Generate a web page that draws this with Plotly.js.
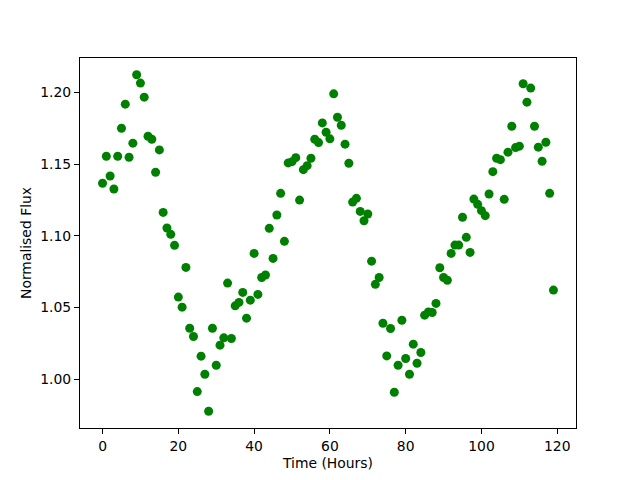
<!DOCTYPE html>
<html>
<head>
<meta charset="utf-8">
<script src="https://cdn.plot.ly/plotly-3.0.1.min.js"></script>
<style>html,body{margin:0;padding:0;background:#fff;}#chart{width:640px;height:480px;}</style>
</head>
<body>
<div id="chart"></div>
<script>
// Time in hours (one sample per hour)
const timeHours = [
  0,1,2,3,4,5,6,7,8,9,10,11,12,13,14,15,16,17,18,19,
  20,21,22,23,24,25,26,27,28,29,30,31,32,33,34,35,36,37,38,39,
  40,41,42,43,44,45,46,47,48,49,50,51,52,53,54,55,56,57,58,59,
  60,61,62,63,64,65,66,67,68,69,70,71,72,73,74,75,76,77,78,79,
  80,81,82,83,84,85,86,87,88,89,90,91,92,93,94,95,96,97,98,99,
  100,101,102,103,104,105,106,107,108,109,110,111,112,113,114,115,116,117,118,119
];
// Normalised flux values
const normFlux = [
  1.1367,1.1556,1.1418,1.1327,1.1556,1.1751,1.1919,1.1549,1.1647,1.2124,
  1.2066,1.1968,1.1695,1.1674,1.1444,1.1600,1.1164,1.1055,1.1011,1.0934,
  1.0573,1.0503,1.0780,1.0356,1.0298,0.9914,1.0161,1.0035,0.9777,1.0356,
  1.0098,1.0238,1.0289,1.0671,1.0284,1.0512,1.0536,1.0606,1.0426,1.0552,
  1.0878,1.0592,1.0710,1.0727,1.1053,1.0843,1.1146,1.1297,1.0962,1.1509,
  1.1518,1.1546,1.1250,1.1462,1.1490,1.1542,1.1674,1.1651,1.1788,1.1723,
  1.1677,1.1991,1.1828,1.1772,1.1640,1.1507,1.1236,1.1262,1.1171,1.1106,
  1.1153,1.0824,1.0662,1.0710,1.0391,1.0163,1.0354,0.9909,1.0098,1.0412,
  1.0145,1.0035,1.0245,1.0112,1.0187,1.0447,1.0470,1.0466,1.0529,1.0778,
  1.0710,1.0691,1.0878,1.0936,1.0936,1.1130,1.0990,1.0885,1.1257,1.1220,
  1.1176,1.1141,1.1292,1.1448,1.1542,1.1532,1.1255,1.1584,1.1765,1.1616,
  1.1626,1.2061,1.1933,1.2031,1.1765,1.1619,1.1521,1.1653,1.1297,1.0622
];
const xTicks = [0,20,40,60,80,100,120];
const yTicks = [1.00,1.05,1.10,1.15,1.20];
const xLabel = "Time (Hours)";
const yLabel = "Normalised Flux";

const font = {family: "DejaVu Sans, sans-serif", size: 13.9, color: "#000"};

const trace = {
  x: timeHours, y: normFlux,
  type: "scatter", mode: "markers",
  marker: {color: "#008000", size: 9, line: {width: 0}},
  hoverinfo: "skip"
};

const axisCommon = {
  showgrid: false, zeroline: false,
  showline: true, linecolor: "#000", linewidth: 1, mirror: true,
  ticks: "outside", ticklen: 5, tickwidth: 1, tickcolor: "#000",
  tickfont: font
};

const layout = {
  width: 640, height: 480,
  margin: {l: 80, r: 64, t: 58, b: 52, pad: 0},
  paper_bgcolor: "#fff", plot_bgcolor: "#fff",
  showlegend: false,
  font: font,
  xaxis: Object.assign({}, axisCommon, {
    range: [-5.95, 124.95], tickvals: xTicks, ticktext: xTicks.map(String),
    title: {text: xLabel, font: font, standoff: 5}
  }),
  yaxis: Object.assign({}, axisCommon, {
    range: [0.9660, 1.2241], tickvals: yTicks, ticktext: yTicks.map(v => v.toFixed(2)),
    title: {text: yLabel, font: font, standoff: 5}
  })
};

Plotly.newPlot("chart", [trace], layout, {staticPlot: true, displayModeBar: false});
</script>
</body>
</html>
